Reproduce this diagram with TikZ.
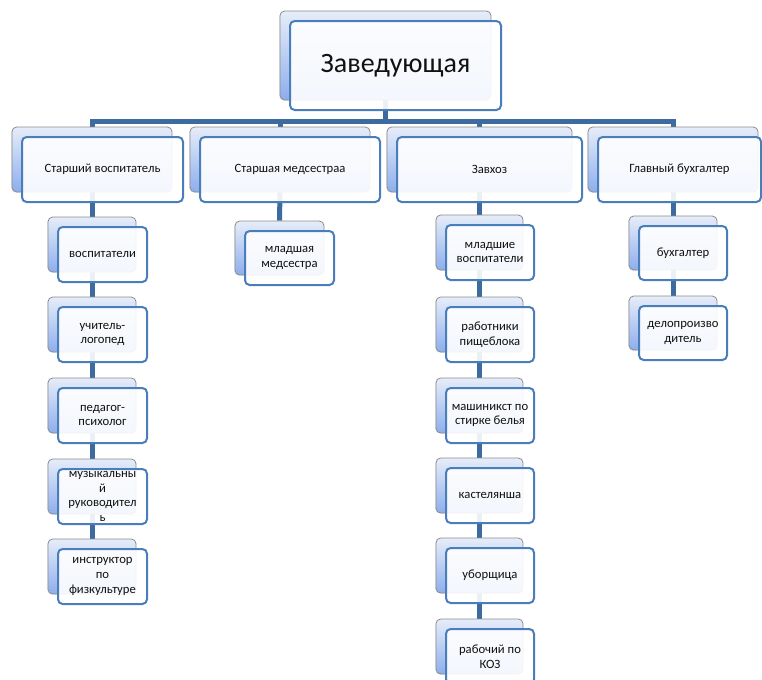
\documentclass[tikz,border=0pt]{standalone}
\usepackage{fontspec}
\setmainfont{Carlito}
\usetikzlibrary{shadows}
\pgfdeclarelayer{bg}
\pgfsetlayers{bg,main}
\definecolor{frameblue}{HTML}{4A7EBB}
\definecolor{connblue}{HTML}{3D6BA0}
\definecolor{backtop}{HTML}{E6EDFA}
\definecolor{backbot}{HTML}{8DAEEC}
\definecolor{backline}{HTML}{8C8C8C}
\definecolor{txt}{HTML}{111111}
\tikzset{
  backbox/.style={rectangle, rounded corners=3.5pt, draw=backline, line width=0.6pt,
    top color=backtop, bottom color=backbot, inner sep=0pt,
    drop shadow={shadow xshift=-0.6pt, shadow yshift=-0.6pt, opacity=0.15}},
  frontbox/.style={rectangle, rounded corners=3.5pt, draw=frameblue, line width=1.5pt,
    fill=white, fill opacity=0.9, text opacity=1, draw opacity=1, inner sep=0pt,
    align=center, text=txt, font=\fontsize{9.5}{11}\selectfont},
  conn/.style={draw=connblue, line width=3.75pt}
}
% \ob{name}{cx}{cy}{bw}{bh}{fw}{fh}{text}
\newcommand\ob[8]{%
  \node[backbox, minimum width={#4*0.75pt}, minimum height={#5*0.75pt}] (#1b) at (#2,#3) {};
  \node[frontbox, minimum width={#6*0.75pt}, minimum height={#7*0.75pt}] (#1) at ({#2-#4/2+10+#6/2},{#3-#5/2+10+#7/2}) {#8};
}
\begin{document}
\begin{tikzpicture}[x=0.75pt,y=-0.75pt]
\useasboundingbox (0,0) rectangle (762,679);
% top
\node[backbox, minimum width={211*0.75pt}, minimum height={89*0.75pt}] (zb) at (385.5,55.5) {};
\node[frontbox, minimum width={211*0.75pt}, minimum height={89*0.75pt}, font=\fontsize{21}{24}\selectfont] (z) at (395.5,65.5) {Заведующая};
% level 1
\ob{a1}{92}{159.5}{160}{65}{161}{65}{Старший воспитатель}
\ob{b1}{280}{159.5}{180}{65}{180}{65}{Старшая медсестраа}
\ob{c1}{479.5}{159.5}{185}{65}{185}{65}{Завхоз}
\ob{d1}{673}{159.5}{170}{65}{163}{65}{Главный бухгалтер}
% column 1
\ob{a2}{92}{244.5}{88}{55}{89}{55}{воспитатели}
\ob{a3}{92}{324.5}{88}{55}{89}{55}{учитель-\\логопед}
\ob{a4}{92}{405.5}{88}{55}{89}{55}{педагог-\\психолог}
\ob{a5}{92}{486.5}{88}{55}{89}{55}{музыкальны\\й\\руководител\\ь}
\ob{a6}{92}{566.5}{88}{55}{89}{55}{инструктор\\по\\физкультуре}
% column 2
\ob{b2}{279.5}{248}{89}{54}{89}{54}{младшая\\медсестра}
% column 3
\ob{c2}{479.5}{242.5}{87}{55}{88}{55}{младшие\\воспитатели}
\ob{c3}{479.5}{324.5}{87}{55}{88}{55}{работники\\пищеблока}
\ob{c4}{479.5}{405.5}{87}{55}{88}{55}{машиникст по\\стирке белья}
\ob{c5}{479.5}{485.5}{87}{55}{88}{55}{кастелянша}
\ob{c6}{479.5}{565.5}{87}{55}{88}{55}{уборщица}
\ob{c7}{479.5}{646.5}{87}{55}{88}{55}{рабочий по\\КОЗ}
% column 4
\ob{d2}{673}{243}{88}{54}{88}{54}{бухгалтер}
\ob{d3}{673}{323}{88}{54}{88}{54}{делопроизво\\дитель}
% connectors
\begin{pgfonlayer}{bg}
\coordinate (bus) at (385.5,121);
\draw[conn] (zb.south) -- (bus);
\draw[conn] (a1b.north) |- (bus);
\draw[conn] (b1b.north) |- (bus);
\draw[conn] (c1b.north) |- (bus);
\draw[conn] (d1b.north) |- (bus);
\draw[conn] (a1b.south) -- (a2b.north);
\draw[conn] (a2b.south) -- (a3b.north);
\draw[conn] (a3b.south) -- (a4b.north);
\draw[conn] (a4b.south) -- (a5b.north);
\draw[conn] (a5b.south) -- (a6b.north);
\draw[conn] (b1b.south) -- (b2b.north);
\draw[conn] (c1b.south) -- (c2b.north);
\draw[conn] (c2b.south) -- (c3b.north);
\draw[conn] (c3b.south) -- (c4b.north);
\draw[conn] (c4b.south) -- (c5b.north);
\draw[conn] (c5b.south) -- (c6b.north);
\draw[conn] (c6b.south) -- (c7b.north);
\draw[conn] (d1b.south) -- (d2b.north);
\draw[conn] (d2b.south) -- (d3b.north);
\end{pgfonlayer}
\end{tikzpicture}
\end{document}
